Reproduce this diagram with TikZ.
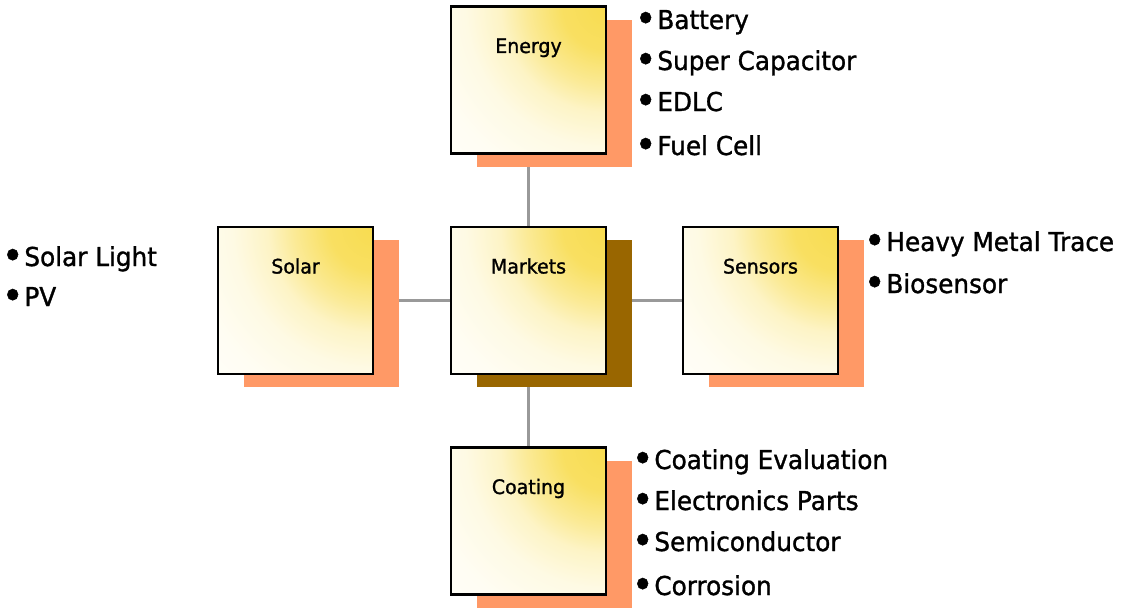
\documentclass[tikz,border=0pt]{standalone}
\usepackage{fontspec}
\setmainfont{DejaVu Sans}[FakeStretch=0.95,FakeBold=1.2]
\definecolor{ShadowSalmon}{HTML}{FF9966}
\definecolor{ShadowBrown}{HTML}{996600}
\definecolor{GlowYellow}{HTML}{F8DC50}
\definecolor{CardCream}{HTML}{FFFEF8}
\definecolor{LinkGrey}{HTML}{999999}
\usetikzlibrary{shadows,backgrounds}
\pgfdeclareradialshading{cornerglow}{\pgfpoint{0bp}{0bp}}{color(0bp)=(GlowYellow);
  color(5bp)=(GlowYellow!90!white); color(9bp)=(GlowYellow!60!white);
  color(12bp)=(GlowYellow!30!CardCream); color(16bp)=(GlowYellow!12!CardCream);
  color(21bp)=(GlowYellow!3!CardCream); color(25bp)=(CardCream); color(50bp)=(CardCream)}
\newcommand\bul{\makebox[0.62em][l]{\hspace{-0.25em}\raisebox{-0.12em}{\scalebox{1.5}{•}}}}

\begin{document}
\begin{tikzpicture}[x=0.025cm,y=-0.025cm,
      card/.style={draw=black,line width=1.5pt,fill=CardCream,inner sep=0pt,
                   minimum width=3.875cm,minimum height=3.675cm,
                   text height=0.4cm,text depth=1.75cm,
                   font=\fontsize{14.2}{17}\selectfont,
                   path picture={\shade[shading=cornerglow]
                     (path picture bounding box.north east) circle (5.5cm);}},
      leaf/.style={card,drop shadow={shadow xshift=0.66cm,shadow yshift=-0.33cm,
                   fill=ShadowSalmon,opacity=1}},
      hub/.style={card,drop shadow={shadow xshift=0.66cm,shadow yshift=-0.33cm,
                   fill=ShadowBrown,opacity=1}},
      item/.style={anchor=base west,inner sep=0pt,font=\fontsize{18.5}{22}\selectfont},
      link/.style={draw=LinkGrey,line width=2.8pt}]
    \useasboundingbox (0,0) rectangle (1126,614);
    \node[leaf] (energy)  at (528.5,80)    {Energy};
    \node[leaf] (solar)   at (295.5,300.5) {Solar};
    \node[hub]  (markets) at (528.5,300.5) {Markets};
    \node[leaf] (sensors) at (760.5,300.5) {Sensors};
    \node[leaf] (coating) at (528.5,521)   {Coating};
    \begin{scope}[on background layer]
      \foreach \a in {energy,solar,sensors,coating} \draw[link] (markets) -- (\a);
    \end{scope}
    \foreach \t/\y [count=\i] in {Battery/29,Super Capacitor/70,EDLC/111,Fuel Cell/155}
      \node[item] (energyItem\i) at (641,\y) {\bul\t};
    \foreach \t/\y [count=\i] in {Solar Light/266,PV/306}
      \node[item] (solarItem\i) at (8,\y) {\bul\t};
    \foreach \t/\y [count=\i] in {Heavy Metal Trace/251,Biosensor/293}
      \node[item] (sensorsItem\i) at (870,\y) {\bul\t};
    \foreach \t/\y [count=\i] in {Coating Evaluation/469,Electronics Parts/510,
                                  Semiconductor/551,Corrosion/595}
      \node[item] (coatingItem\i) at (638,\y) {\bul\t};
  \end{tikzpicture}
\end{document}
